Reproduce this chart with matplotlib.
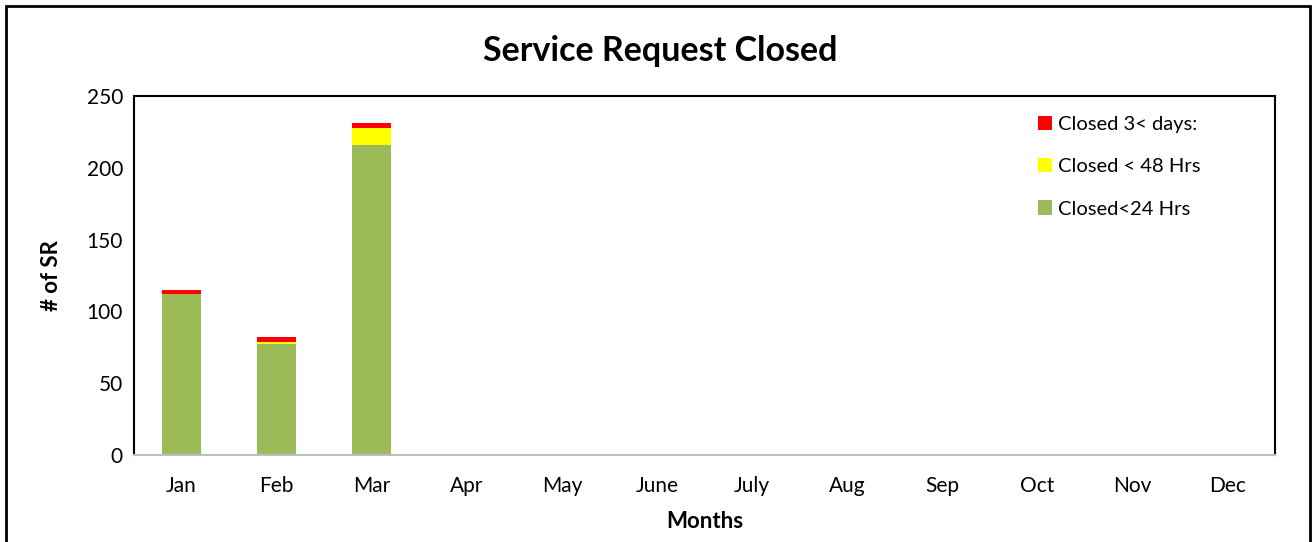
import matplotlib
matplotlib.use("Agg")
import matplotlib.pyplot as plt
from matplotlib.patches import Rectangle
import numpy as np

months = ["Jan", "Feb", "Mar", "Apr", "May", "June", "July", "Aug", "Sep", "Oct", "Nov", "Dec"]
closed_24 = [112, 77, 216, 0, 0, 0, 0, 0, 0, 0, 0, 0]
closed_48 = [0, 2, 12, 0, 0, 0, 0, 0, 0, 0, 0, 0]
closed_3d = [3, 3, 3, 0, 0, 0, 0, 0, 0, 0, 0, 0]

plt.rcParams['font.family'] = ['Lato', 'DejaVu Sans']

fig = plt.figure(figsize=(13.12, 5.42), dpi=100)
ax = fig.add_axes([134/1312, 1-455/542, (1275-134)/1312, (455-96)/542])

x = np.arange(len(months))
w = 0.41
c24 = np.array(closed_24)
c48 = np.array(closed_48)
c3 = np.array(closed_3d)
b1 = ax.bar(x, c24, w, color="#9BBB59", label="Closed<24 Hrs")
b2 = ax.bar(x, c48, w, bottom=c24, color="#FFFF00", label="Closed < 48 Hrs")
b3 = ax.bar(x, c3, w, bottom=c24 + c48, color="#FF0000", label="Closed 3< days:")

ax.set_xlim(-0.5, 11.5)
ax.set_ylim(0, 250)
ax.set_yticks(range(0, 251, 50))
ax.set_xticks(x)
ax.set_xticklabels(months)
ax.tick_params(axis='both', labelsize=15, colors='black')
ax.tick_params(axis='x', length=0, pad=15)
ax.tick_params(axis='y', length=0, pad=8)
for s in ['left', 'top', 'right']:
    ax.spines[s].set_color('black')
    ax.spines[s].set_linewidth(1.5)
ax.spines['bottom'].set_color('#BFBFBF')
ax.spines['bottom'].set_linewidth(1.5)

ax.set_ylabel("# of SR", fontsize=16, fontweight='bold', labelpad=18)
ax.set_xlabel("Months", fontsize=16, fontweight='bold', labelpad=11)
fig.text(0.503, 1-51/542, "Service Request Closed", fontsize=24.5, fontweight='bold',
         ha='center', va='center')

leg = ax.legend(handles=[b3, b2, b1], loc='upper right', frameon=False, fontsize=14.5,
                handlelength=0.7, handleheight=0.7, handletextpad=0.3, labelspacing=1.25,
                bbox_to_anchor=(0.951, 0.995))

fig.patches.append(Rectangle((6/1312, -0.01), (1310-6)/1312, 1 - 6/542 + 0.01,
                             transform=fig.transFigure, fill=False, edgecolor='black',
                             linewidth=2, zorder=0))

fig.savefig("out.png", dpi=100)
